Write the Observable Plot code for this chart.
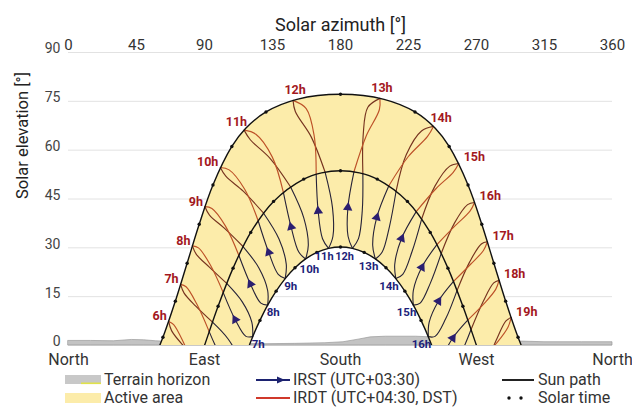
<!DOCTYPE html>
<html>
<head>
<meta charset="utf-8">
<script src="https://cdn.jsdelivr.net/npm/d3@7"></script>
<script src="https://cdn.jsdelivr.net/npm/@observablehq/plot@0.6"></script>
<style>
  html, body { margin: 0; padding: 0; background: #fff; }
  #wrap { position: relative; width: 632px; height: 407px; overflow: hidden; font-family: Roboto, "Noto Sans", sans-serif; color: #333; }
  #chart { position: absolute; left: 0; top: 0; }
  #legend { position: absolute; left: 0; top: 368px; width: 632px; height: 39px; font-size: 16px; }
  #legend .it { position: absolute; line-height: 16px; white-space: nowrap; }
  #legend svg { position: absolute; overflow: visible; }
</style>
</head>
<body>
<div id="wrap">
  <div id="chart"></div>
  <div id="legend">
    <svg style="left:65px;top:7px" width="36" height="10"><rect x="0" y="0" width="36" height="9" fill="#c8c8c8"/><rect x="16" y="7.5" width="20" height="1.6" fill="#e0e24a"/></svg>
    <span class="it" style="left:104px;top:4px">Terrain horizon</span>
    <svg style="left:65px;top:25px" width="36" height="10"><rect x="0" y="0" width="36" height="10" fill="#fcecaa"/></svg>
    <span class="it" style="left:104px;top:22px">Active area</span>

    <svg style="left:256px;top:7px" width="34" height="10"><line x1="0" y1="5" x2="34" y2="5" stroke="#1c2270" stroke-width="2"/><path d="M29,5 L21,1.5 L21,8.5 Z" fill="#1c2270"/></svg>
    <span class="it" style="left:293px;top:4px">IRST (UTC+03:30)</span>
    <svg style="left:256px;top:25px" width="34" height="10"><line x1="0" y1="5" x2="34" y2="5" stroke="#d0392b" stroke-width="2"/></svg>
    <span class="it" style="left:293px;top:22px">IRDT (UTC+04:30, DST)</span>

    <svg style="left:502px;top:7px" width="32" height="10"><line x1="0" y1="5" x2="32" y2="5" stroke="#222" stroke-width="2"/></svg>
    <span class="it" style="left:538px;top:4px">Sun path</span>
    <svg style="left:502px;top:25px" width="32" height="10"><circle cx="7" cy="5" r="1.7" fill="#111"/><circle cx="19" cy="5" r="1.7" fill="#111"/></svg>
    <span class="it" style="left:538px;top:22px">Solar time</span>
  </div>
</div>
<script>
// ---- axis ticks ----
const azimuthTicks = [0, 45, 90, 135, 180, 225, 270, 315, 360];
const elevationTicks = [0, 15, 30, 45, 60, 75, 90];
const compassTicks = [0, 90, 180, 270, 360];
const compassLabels = ["North", "East", "South", "West", "North"];

// ---- sun paths: [hour angle (deg), azimuth (deg), elevation (deg)] ----
const summerPath = [
  [-120, 53.3, -7.71], [-105, 62.5, 2.53], [-90, 70.7, 13.62], [-75, 78.5, 25.27],
  [-60, 86.5, 37.24], [-45, 95.6, 49.31], [-30, 108.1, 61.14], [-22.5, 117.3, 66.72],
  [-15, 130.7, 71.74], [-7.5, 151.2, 75.60], [0, 180, 77.16], [7.5, 208.8, 75.60],
  [15, 229.3, 71.74], [22.5, 242.7, 66.72], [30, 251.9, 61.14], [45, 264.4, 49.31],
  [60, 273.5, 37.24], [75, 281.5, 25.27], [90, 289.3, 13.62], [105, 297.5, 2.53],
  [120, 306.7, -7.71]
];
const equinoxPath = [
  [-100, 84.0, -8.04], [-90, 90, 0], [-75, 99.0, 12.04], [-60, 108.9, 23.76],
  [-45, 120.6, 34.74], [-30, 135.7, 44.26], [-15, 155.7, 51.12], [-7.5, 167.5, 53.04],
  [0, 180, 53.70], [7.5, 192.5, 53.04], [15, 204.3, 51.12], [30, 224.3, 44.26],
  [45, 239.4, 34.74], [60, 251.1, 23.76], [75, 261.0, 12.04], [90, 270, 0],
  [100, 276.0, -8.04]
];
const winterPath = [
  [-80, 114.7, -6.15], [-67.5, 121.9, 2.72], [-60, 126.7, 7.71], [-52.5, 131.8, 12.39],
  [-45, 137.4, 16.70], [-37.5, 143.4, 20.56], [-30, 149.9, 23.88], [-22.5, 156.9, 26.59],
  [-15, 164.3, 28.60], [-7.5, 172.1, 29.84], [0, 180, 30.26], [7.5, 187.9, 29.84],
  [15, 195.7, 28.60], [22.5, 203.1, 26.59], [30, 210.1, 23.88], [37.5, 216.6, 20.56],
  [45, 222.6, 16.70], [52.5, 228.2, 12.39], [60, 233.3, 7.71], [67.5, 238.1, 2.72],
  [80, 245.3, -6.15]
];

// ---- terrain horizon: [azimuth, elevation] ----
const terrainHorizon = [
  [0, 1.4], [15, 1.4], [30, 1.3], [42, 1.7], [50, 1.6], [58, 1.3], [70, 1.0], [90, 0.7],
  [110, 0.5], [130, 0.4], [150, 0.5], [170, 0.7], [182, 1.0], [192, 1.8], [200, 2.5],
  [210, 2.7], [230, 2.7], [245, 2.4], [265, 2.0], [285, 1.6], [300, 1.2], [315, 1.0],
  [340, 1.0], [360, 1.0]
];

// ---- hour lines (IRST clock hour; red part is the same clock reading in IRDT = hour+1) ----
const irstHours = [5, 6, 7, 8, 9, 10, 11, 12, 13, 14, 15, 16, 17, 18];
// Dec 21, Jan 20, Feb 20, Mar 21, Apr 20, May 21, Jun 21  -> [azimuth, elevation]
const springCurves = [
  [[105.3, -19.4], [100.6, -20.0], [92.5, -15.7], [84.2, -7.80], [76.2, 0.81], [69.6, 6.44], [66.3, 7.40]],
  [[113.3, -7.99], [108.8, -8.30], [101.2, -3.67], [93.1, 4.27], [84.9, 12.72], [77.8, 18.04], [74.2, 18.77]],
  [[121.9, 2.72], [117.4, 2.81], [110.3, 7.96], [102.4, 16.24], [93.8, 24.80], [86.0, 29.99], [82.0, 30.59]],
  [[131.8, 12.39], [127.3, 13.02], [120.4, 18.88], [112.7, 27.73], [103.8, 36.74], [94.9, 42.07], [90.3, 42.64]],
  [[143.4, 20.56], [138.8, 21.87], [132.5, 28.60], [125.5, 38.33], [116.5, 48.08], [106.3, 53.95], [100.5, 54.68]],
  [[156.9, 26.59], [152.4, 28.70], [147.3, 36.43], [142.2, 47.05], [134.8, 57.94], [124.0, 64.90], [116.2, 66.15]],
  [[172.1, 29.84], [168.1, 32.81], [165.2, 41.32], [163.9, 52.60], [162.6, 64.32], [157.3, 72.77], [148.6, 75.29]],
  [[187.9, 29.84], [185.0, 33.55], [184.9, 42.38], [188.9, 53.36], [197.0, 64.36], [205.7, 72.42], [206.1, 75.91]],
  [[203.1, 26.59], [201.3, 30.78], [204.0, 39.34], [212.0, 49.09], [224.9, 58.05], [237.6, 64.24], [241.5, 67.30]],
  [[216.6, 20.56], [215.9, 24.98], [220.4, 32.86], [230.1, 41.12], [243.3, 48.23], [254.6, 53.17], [258.2, 55.92]],
  [[228.2, 12.39], [228.2, 16.90], [233.8, 24.02], [243.8, 31.00], [256.1, 36.89], [265.7, 41.27], [268.7, 43.93]],
  [[238.1, 2.72], [238.7, 7.16], [244.8, 13.61], [254.8, 19.67], [266.1, 24.96], [274.6, 29.19], [277.2, 31.87]],
  [[246.7, -7.99], [247.8, -3.62], [254.3, 2.29], [264.2, 7.80], [275.0, 12.88], [282.7, 17.25], [284.9, 20.01]],
  [[254.7, -19.4], [256.0, -15.1], [263.1, -9.56], [273.1, -4.27], [283.7, 0.96], [290.9, 5.69], [292.9, 8.58]]
];
// Jun 21, Jul 22, Aug 22, Sep 22, Oct 22, Nov 21, Dec 21 -> [azimuth, elevation]
const autumnCurves = [
  [[66.3, 7.40], [68.2, 4.57], [75.7, 0.10], [86.4, -4.91], [96.8, -9.8], [104.0, -15.1], [105.3, -19.4]],
  [[74.2, 18.77], [76.5, 16.08], [84.4, 12.00], [95.3, 7.16], [105.5, 2.06], [112.2, -3.62], [113.3, -7.99]],
  [[82.0, 30.59], [84.6, 27.99], [93.2, 24.07], [104.7, 19.06], [115.0, 13.39], [121.3, 7.16], [121.9, 2.72]],
  [[90.3, 42.64], [93.3, 40.06], [103.1, 36.03], [115.5, 30.40], [126.0, 23.81], [131.8, 16.90], [131.8, 12.39]],
  [[100.5, 54.68], [104.1, 52.0], [115.6, 47.41], [129.1, 40.63], [139.3, 32.71], [144.1, 24.98], [143.4, 20.56]],
  [[116.2, 66.15], [120.3, 63.20], [133.5, 57.41], [146.9, 48.75], [155.7, 39.23], [158.7, 30.78], [156.9, 26.59]],
  [[148.6, 75.29], [150.1, 71.86], [160.6, 64.08], [169.8, 53.25], [174.7, 42.36], [175.0, 33.55], [172.1, 29.84]],
  [[206.1, 75.91], [198.1, 73.17], [195.0, 64.55], [194.8, 52.77], [194.4, 41.38], [191.9, 32.81], [187.9, 29.84]],
  [[241.5, 67.30], [233.6, 65.89], [223.5, 58.56], [216.8, 47.45], [212.4, 36.55], [207.6, 28.70], [203.1, 26.59]],
  [[258.2, 55.92], [252.3, 55.09], [242.4, 48.87], [233.7, 38.84], [227.3, 28.79], [221.2, 21.87], [216.6, 20.56]],
  [[268.7, 43.93], [264.1, 43.27], [255.4, 37.59], [246.7, 28.33], [239.4, 19.09], [232.7, 13.02], [228.2, 12.39]],
  [[277.2, 31.87], [273.2, 31.20], [265.5, 25.68], [257.1, 16.86], [249.6, 8.19], [242.6, 2.81], [238.1, 2.72]],
  [[284.9, 20.01], [281.4, 19.22], [274.5, 13.60], [266.4, 4.91], [258.6, -3.43], [251.2, -8.30], [246.7, -7.99]],
  [[292.9, 8.58], [289.5, 7.58], [283.1, 1.67], [275.3, -7.16], [267.3, -15.42], [259.4, -20.0], [254.7, -19.4]]
];

// ---- layout ----
const W = 632, H = 374, ML = 68, MR = 20, MT = 52, MB = 29;
const kx = (W - ML - MR) / 360, ky = (H - MT - MB) / 90;

// ---- derived tables ----
const toRows = (arr, name) => arr.map(d => ({path: name, ha: d[0], az: d[1], el: d[2]}));
const pathRows = [...toRows(summerPath, "summer"), ...toRows(equinoxPath, "equinox"), ...toRows(winterPath, "winter")];
const solarDots = pathRows.filter(d => d.ha % 15 === 0 && d.el > 0.5);
const activeRing = [
  ...summerPath.map(d => ({az: d[1], el: d[2]})),
  ...winterPath.slice().reverse().map(d => ({az: d[1], el: d[2]}))
];

const irst = [], irdtSpring = [], irdtAutumn = [];
irstHours.forEach((h, i) => {
  const sp = springCurves[i], au = autumnCurves[i];
  const push = (target, pts, id) => pts.forEach(p => target.push({id, az: p[0], el: p[1]}));
  push(irst, sp.slice(0, 4), h + "-sb");
  push(irst, au.slice(3), h + "-ab");
  push(irdtSpring, sp.slice(3), h + "-sr");
  push(irdtAutumn, au.slice(0, 4), h + "-ar");
});

const summerLabels = irstHours.map((h, i) => ({hour: h + 1, az: springCurves[i][6][0], el: springCurves[i][6][1]}));
const winterLabels = irstHours.map((h, i) => ({hour: h, az: springCurves[i][0][0], el: springCurves[i][0][1]})).filter(d => d.el > 0);

const arrows = irstHours.map((h, i) => {
  const c = springCurves[i];
  const dx = (c[3][0] - c[1][0]) * kx, up = (c[3][1] - c[1][1]) * ky;
  return {az: c[2][0], el: c[2][1], rot: Math.atan2(dx, up) * 180 / Math.PI};
}).filter(d => d.el > 0.5);

const lbl = (data, hours, color, size, opts) => Plot.text(data, {
  x: "az", y: "el", text: d => d.hour + "h", fontSize: size, fontWeight: "bold",
  filter: d => hours.includes(d.hour), fill: color, ...opts
});
const RED = "#a3181e", BLUE = "#1d1f7a";

const chart = Plot.plot({
  width: W, height: H,
  marginTop: MT, marginLeft: ML, marginRight: MR, marginBottom: MB,
  x: {domain: [0, 360]},
  y: {domain: [0, 90]},
  style: {fontFamily: "Roboto, 'Noto Sans', sans-serif", background: "transparent"},
  marks: [
    Plot.gridY(elevationTicks, {stroke: "#e2e2e2", strokeOpacity: 1, strokeWidth: 1}),
    Plot.areaY(terrainHorizon, {x: d => d[0], y: d => d[1], fill: "#c3c3c3", stroke: "#999", strokeWidth: 0.7}),
    Plot.line(activeRing, {x: "az", y: "el", fill: "#fcecaa", stroke: "none", curve: "catmull-rom", clip: true}),
    Plot.line(irst, {x: "az", y: "el", z: "id", stroke: "#262238", strokeWidth: 1.1, curve: "catmull-rom", clip: true}),
    Plot.line(irdtAutumn, {x: "az", y: "el", z: "id", stroke: "#76331f", strokeWidth: 1.15, curve: "catmull-rom", clip: true}),
    Plot.line(irdtSpring, {x: "az", y: "el", z: "id", stroke: "#bd5128", strokeWidth: 1.15, curve: "catmull-rom", clip: true}),
    Plot.line(pathRows, {x: "az", y: "el", z: "path", stroke: "#111", strokeWidth: 1.4, curve: "catmull-rom", clip: true}),
    Plot.dot(solarDots, {x: "az", y: "el", r: 1.7, fill: "#111"}),
    Plot.dot(arrows, {x: "az", y: "el", rotate: "rot", symbol: "triangle", r: 3.5, fill: "#2b1f70", stroke: "none"}),
    // summer (IRDT) labels
    lbl(summerLabels, [6, 7, 8, 9, 10], RED, 12.5, {textAnchor: "end", dx: -2, dy: -5}),
    lbl(summerLabels, [11], RED, 12.5, {textAnchor: "end", dx: 3, dy: -8}),
    lbl(summerLabels, [12, 13], RED, 12.5, {textAnchor: "middle", dx: 2, dy: -10}),
    lbl(summerLabels, [14], RED, 12.5, {textAnchor: "start", dx: -3, dy: -8}),
    lbl(summerLabels, [15, 16, 17, 18, 19], RED, 12.5, {textAnchor: "start", dx: 5, dy: -6}),
    // winter (IRST) labels
    lbl(winterLabels, [7, 8, 9], BLUE, 11.5, {textAnchor: "start", dx: -1, dy: 7.5}),
    lbl(winterLabels, [10], BLUE, 11.5, {textAnchor: "start", dx: -6, dy: 10}),
    lbl(winterLabels, [11], BLUE, 11, {textAnchor: "end", dx: 5, dy: 8.5}),
    lbl(winterLabels, [12], BLUE, 11, {textAnchor: "end", dx: 1.5, dy: 8.5}),
    lbl(winterLabels, [13, 14, 15, 16], BLUE, 11.5, {textAnchor: "end", dx: 3, dy: 7.5}),
    // axes
    Plot.axisY(elevationTicks, {tickSize: 0, tickPadding: 8, label: null, fontSize: 14, color: "#444", dy: -3.5}),
    Plot.axisX(azimuthTicks, {anchor: "top", tickSize: 0, tickPadding: 3, label: null, fontSize: 15, color: "#333"}),
    Plot.axisX(compassTicks, {anchor: "bottom", tickSize: 0, tickPadding: 8, label: null, fontSize: 16, color: "#333",
      tickFormat: d => compassLabels[compassTicks.indexOf(d)]}),
    Plot.text(["Solar azimuth [°]"], {frameAnchor: "top", dy: -34, fontSize: 18, fill: "#222"}),
    Plot.text(["Solar elevation [°]"], {frameAnchor: "left", dx: -46, rotate: -90, fontSize: 16.5, fill: "#222"})
  ]
});
document.getElementById("chart").appendChild(chart);
</script>
</body>
</html>
